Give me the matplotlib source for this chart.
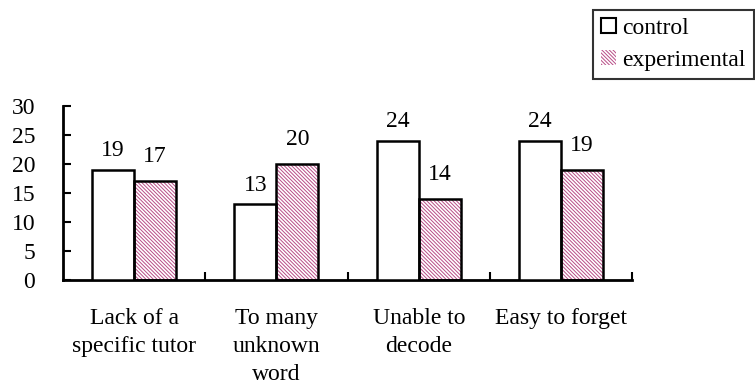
import matplotlib.pyplot as plt
import numpy as np
from matplotlib.patches import Patch

plt.rcParams['font.family'] = ['Liberation Serif', 'DejaVu Serif']
plt.rcParams['hatch.linewidth'] = 0.7

categories = ['Lack of a\nspecific tutor', 'To many\nunknown\nword',
              'Unable to\ndecode', 'Easy to forget']
control = [19, 13, 24, 24]
experimental = [17, 20, 14, 19]
yticks = [0, 5, 10, 15, 20, 25, 30]

pink = '#b84c86'
hatch = '\\' * 9
fs = 17

fig = plt.figure(figsize=(7.55, 3.92), dpi=100)
ax = fig.add_axes([0.0834, 0.286, 0.754, 0.444])

x = np.arange(len(categories)) + 0.5
w = 0.295

# control bars: plain white with black outline
ax.bar(x - w / 2, control, w, color='white', edgecolor='black', linewidth=1.8, zorder=3)
# experimental bars: pink hatch, then a black outline on top
ax.bar(x + w / 2, experimental, w, color='white', edgecolor=pink, hatch=hatch,
       linewidth=0, zorder=2)
ax.bar(x + w / 2, experimental, w, fill=False, edgecolor='black', linewidth=1.8, zorder=3)

for xi, v in zip(x - w / 2, control):
    ax.annotate(str(v), (xi, v), xytext=(0, 6), textcoords='offset points',
                ha='center', va='bottom', fontsize=fs)
for xi, v in zip(x + w / 2, experimental):
    ax.annotate(str(v), (xi, v), xytext=(0, 10), textcoords='offset points',
                ha='center', va='bottom', fontsize=fs)

ax.set_xlim(0, 4)
ax.set_ylim(0, 30)
ax.set_yticks(yticks)
ax.tick_params(axis='y', direction='in', length=6, width=1.5, pad=20, labelsize=fs)
ax.set_xticks(x)
ax.set_xticklabels(categories, fontsize=fs, linespacing=1.45, va='top')
ax.tick_params(axis='x', which='major', length=0, pad=20)
ax.set_xticks([1, 2, 3, 4], minor=True)
ax.tick_params(axis='x', which='minor', direction='in', length=6, width=1.5)

for s in ['top', 'right']:
    ax.spines[s].set_visible(False)
for s in ['left', 'bottom']:
    ax.spines[s].set_linewidth(2)

handles = [Patch(facecolor='white', edgecolor='black', linewidth=1.5, label='control'),
           Patch(facecolor='white', edgecolor=pink, hatch=hatch, linewidth=0,
                 label='experimental')]
leg = fig.legend(handles=handles, loc='upper right', bbox_to_anchor=(0.999, 0.975),
                 fontsize=fs, frameon=True, fancybox=False, edgecolor='black',
                 handlelength=0.6, handleheight=0.6, handletextpad=0.3,
                 borderpad=0.35, labelspacing=0.45, borderaxespad=0)
leg.get_frame().set_linewidth(1.5)

fig.savefig('out.png', dpi=100)
